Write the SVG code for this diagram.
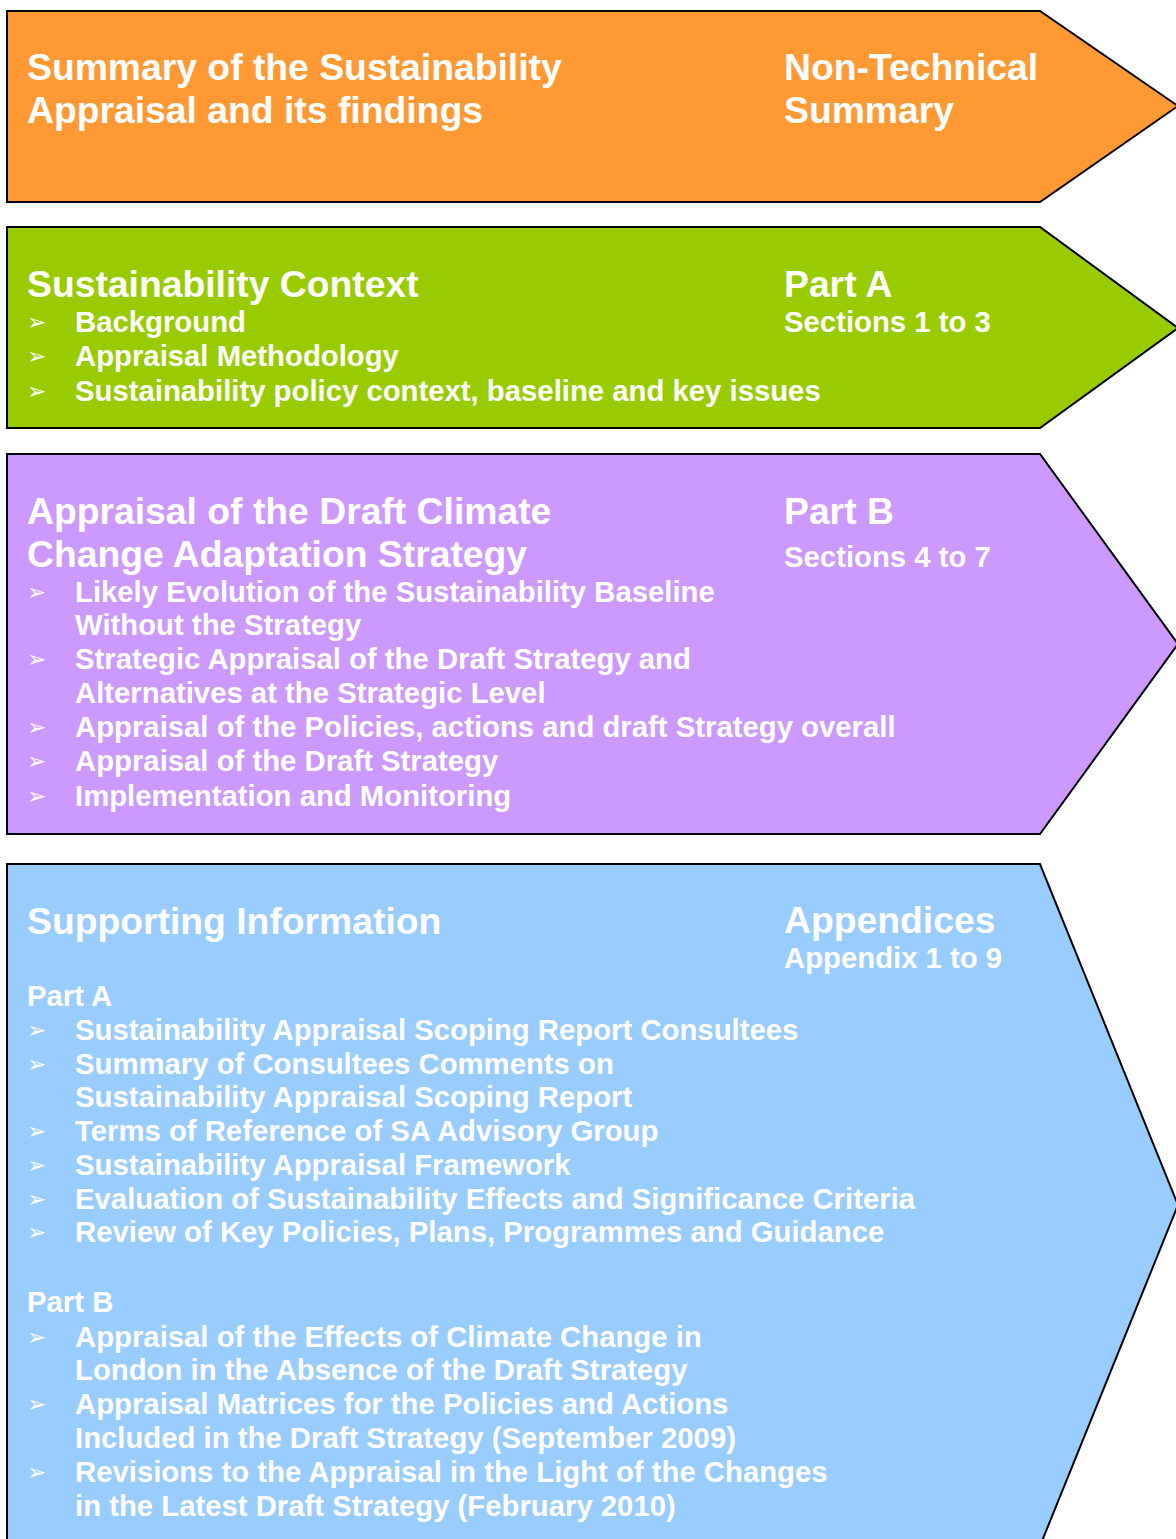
<svg xmlns="http://www.w3.org/2000/svg" width="1176" height="1539" viewBox="0 0 1176 1539">
<style>
.shape{stroke:#000;stroke-width:2;stroke-linejoin:miter}
text{font-family:"Liberation Sans",Arial,sans-serif;font-weight:bold;fill:#fff}
.t{font-size:37.3px}
.b{font-size:29.3px}
.bu{font-family:"DejaVu Sans",sans-serif;font-weight:normal;font-size:23px}
</style>
<rect width="1176" height="1539" fill="#fff"/>
<g id="node-nts">
<polygon class="shape" fill="#FF9933" points="7,11 1040,11 1178,106 1040,202 7,202"/>
<text class="t" x="27" y="80">Summary of the Sustainability</text>
<text class="t" x="27" y="123">Appraisal and its findings</text>
<text class="t" x="784" y="80">Non-Technical</text>
<text class="t" x="784" y="123">Summary</text>
</g>
<g id="node-partA">
<polygon class="shape" fill="#99CC00" points="7,227 1040,227 1178,328 1040,428 7,428"/>
<text class="t" x="27" y="297">Sustainability Context</text>
<text class="t" x="784" y="297">Part A</text>
<text class="b" x="784" y="332">Sections 1 to 3</text>
<text class="bu" x="27" y="330">➢</text>
<text class="b" x="75" y="332">Background</text>
<text class="bu" x="27" y="364">➢</text>
<text class="b" x="75" y="366">Appraisal Methodology</text>
<text class="bu" x="27" y="399">➢</text>
<text class="b" x="75" y="401">Sustainability policy context, baseline and key issues</text>
</g>
<g id="node-partB">
<polygon class="shape" fill="#CC99FF" points="7,454 1040,454 1178,644 1040,834 7,834"/>
<text class="t" x="27" y="524">Appraisal of the Draft Climate</text>
<text class="t" x="27" y="567">Change Adaptation Strategy</text>
<text class="t" x="784" y="524">Part B</text>
<text class="b" x="784" y="567">Sections 4 to 7</text>
<text class="bu" x="27" y="600">➢</text>
<text class="b" x="75" y="602">Likely Evolution of the Sustainability Baseline</text>
<text class="b" x="75" y="635">Without the Strategy</text>
<text class="bu" x="27" y="667">➢</text>
<text class="b" x="75" y="669">Strategic Appraisal of the Draft Strategy and</text>
<text class="b" x="75" y="703">Alternatives at the Strategic Level</text>
<text class="bu" x="27" y="735">➢</text>
<text class="b" x="75" y="737">Appraisal of the Policies, actions and draft Strategy overall</text>
<text class="bu" x="27" y="769">➢</text>
<text class="b" x="75" y="771">Appraisal of the Draft Strategy</text>
<text class="bu" x="27" y="804">➢</text>
<text class="b" x="75" y="806">Implementation and Monitoring</text>
</g>
<g id="node-appendices">
<polygon class="shape" fill="#99CCFF" points="7,864 1040,864 1178,1205 1040,1546 7,1546"/>
<text class="t" x="27" y="934">Supporting Information</text>
<text class="t" x="784" y="933">Appendices</text>
<text class="b" x="784" y="968">Appendix 1 to 9</text>
<text class="b" x="27" y="1006">Part A</text>
<text class="bu" x="27" y="1038">➢</text>
<text class="b" x="75" y="1040">Sustainability Appraisal Scoping Report Consultees</text>
<text class="bu" x="27" y="1072">➢</text>
<text class="b" x="75" y="1074">Summary of Consultees Comments on</text>
<text class="b" x="75" y="1107">Sustainability Appraisal Scoping Report</text>
<text class="bu" x="27" y="1139">➢</text>
<text class="b" x="75" y="1141">Terms of Reference of SA Advisory Group</text>
<text class="bu" x="27" y="1173">➢</text>
<text class="b" x="75" y="1175">Sustainability Appraisal Framework</text>
<text class="bu" x="27" y="1207">➢</text>
<text class="b" x="75" y="1209">Evaluation of Sustainability Effects and Significance Criteria</text>
<text class="bu" x="27" y="1240">➢</text>
<text class="b" x="75" y="1242">Review of Key Policies, Plans, Programmes and Guidance</text>
<text class="b" x="27" y="1312">Part B</text>
<text class="bu" x="27" y="1345">➢</text>
<text class="b" x="75" y="1347">Appraisal of the Effects of Climate Change in</text>
<text class="b" x="75" y="1380">London in the Absence of the Draft Strategy</text>
<text class="bu" x="27" y="1412">➢</text>
<text class="b" x="75" y="1414">Appraisal Matrices for the Policies and Actions</text>
<text class="b" x="75" y="1448">Included in the Draft Strategy (September 2009)</text>
<text class="bu" x="27" y="1480">➢</text>
<text class="b" x="75" y="1482">Revisions to the Appraisal in the Light of the Changes</text>
<text class="b" x="75" y="1516">in the Latest Draft Strategy (February 2010)</text>
</g>
<g id="connectors"/>
</svg>
